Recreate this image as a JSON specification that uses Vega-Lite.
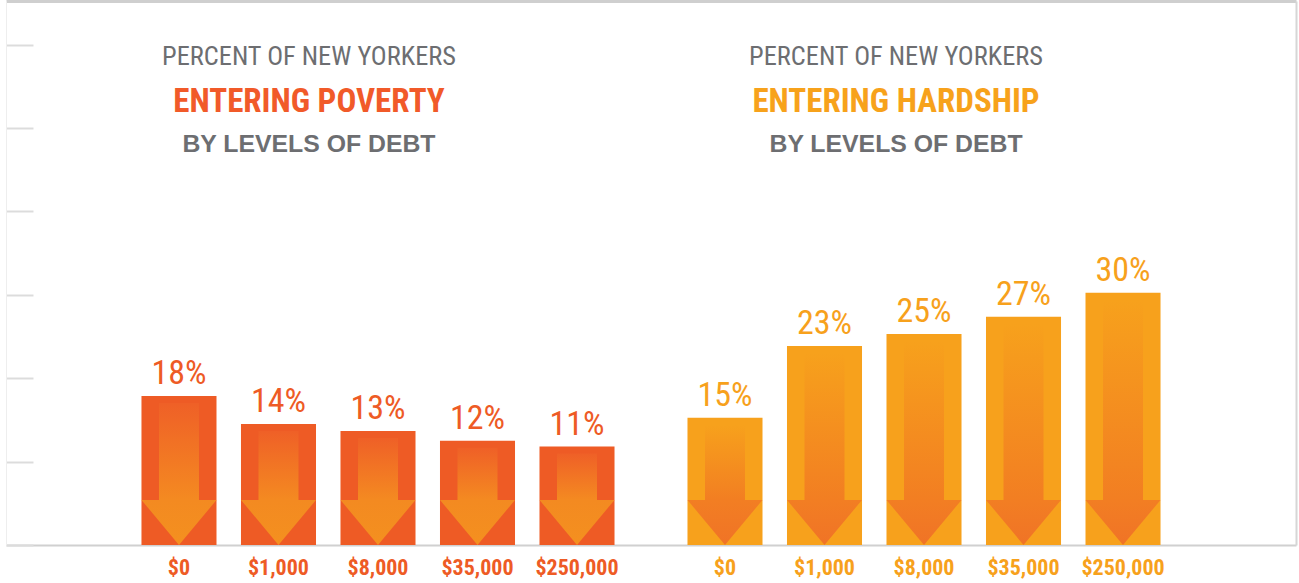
{
  "$schema": "https://vega.github.io/schema/vega-lite/v6.json",
  "width": 1290,
  "height": 544,
  "padding": {"left": 6, "top": 1, "right": 3, "bottom": 38},
  "autosize": {"type": "none"},
  "background": "#ffffff",
  "config": {"view": {"stroke": null}, "font": "'Noto Sans Condensed', 'Roboto Condensed', 'DejaVu Sans Condensed', 'Liberation Sans'"},
  "datasets": {
    "bars": [
      {"group": "Poverty", "debt": "$0", "value": 17.87, "label": "18%"},
      {"group": "Poverty", "debt": "$1,000", "value": 14.5, "label": "14%"},
      {"group": "Poverty", "debt": "$8,000", "value": 13.67, "label": "13%"},
      {"group": "Poverty", "debt": "$35,000", "value": 12.5, "label": "12%"},
      {"group": "Poverty", "debt": "$250,000", "value": 11.8, "label": "11%"},
      {"group": "Hardship", "debt": "$0", "value": 15.26, "label": "15%"},
      {"group": "Hardship", "debt": "$1,000", "value": 23.86, "label": "23%"},
      {"group": "Hardship", "debt": "$8,000", "value": 25.3, "label": "25%"},
      {"group": "Hardship", "debt": "$35,000", "value": 27.37, "label": "27%"},
      {"group": "Hardship", "debt": "$250,000", "value": 30.25, "label": "30%"}
    ],
    "titles": [
      {"group": "Poverty", "line1": "PERCENT OF NEW YORKERS", "line2": "ENTERING POVERTY", "line3": "BY LEVELS OF DEBT"},
      {"group": "Hardship", "line1": "PERCENT OF NEW YORKERS", "line2": "ENTERING HARDSHIP", "line3": "BY LEVELS OF DEBT"}
    ]
  },
  "resolve": {"axis": {"x": "independent", "y": "independent"}},
  "layer": [
    {
      "data": {"name": "bars"},
      "mark": {"type": "bar"},
      "encoding": {
        "x": {"field": "group", "type": "nominal",
              "scale": {"domain": ["Poverty", "Hardship"], "paddingInner": 0.0888, "paddingOuter": 0.2257},
              "axis": {"orient": "bottom", "labels": false, "ticks": false, "title": null, "domainColor": "#d0d0d0", "domainWidth": 2}},
        "xOffset": {"field": "debt", "type": "nominal",
              "scale": {"domain": ["$0", "$1,000", "$8,000", "$35,000", "$250,000"], "paddingInner": 0.246, "paddingOuter": 0.123}},
        "y": {"field": "value", "type": "quantitative",
              "scale": {"domain": [0, 65.23], "nice": false},
              "axis": {"orient": "left", "values": [0, 10, 20, 30, 40, 50, 60], "labels": false, "grid": false, "title": null,
                       "domainColor": "#eeeeee", "domainWidth": 1, "tickColor": "#dcdcdc", "tickWidth": 2, "tickSize": -27}},
        "y2": {"datum": 0},
        "color": {"field": "group", "type": "nominal",
                  "scale": {"domain": ["Poverty", "Hardship"], "range": ["#EE5B25", "#F7A11C"]}, "legend": null}
      }
    },
    {
      "data": {"name": "bars"},
      "mark": {"type": "bar", "width": 40, "yOffset": 7},
      "encoding": {
        "x": {"field": "group", "type": "nominal",
              "axis": {"orient": "top", "labels": false, "ticks": false, "title": null, "domainColor": "#cfcfcf", "domainWidth": 3}},
        "xOffset": {"field": "debt", "type": "nominal"},
        "y": {"field": "value", "type": "quantitative",
              "axis": {"orient": "right", "labels": false, "ticks": false, "grid": false, "title": null, "domainColor": "#d6d6d6", "domainWidth": 2}},
        "y2": {"datum": 5.4},
        "color": {
          "condition": {"test": "datum.group === 'Poverty'",
            "value": {"gradient": "linear", "x1": 0, "y1": 0, "x2": 0, "y2": 1,
                      "stops": [{"offset": 0, "color": "#EF6027"}, {"offset": 1, "color": "#F48A21"}]}},
          "value": {"gradient": "linear", "x1": 0, "y1": 0, "x2": 0, "y2": 1,
                    "stops": [{"offset": 0, "color": "#F7A11C"}, {"offset": 1, "color": "#F27E22"}]}
        }
      }
    },
    {
      "data": {"name": "bars"},
      "mark": {"type": "point", "shape": "M-1,-0.6L1,-0.6L0,0.6Z", "filled": true, "opacity": 1, "strokeWidth": 0, "size": 5625},
      "encoding": {
        "x": {"field": "group", "type": "nominal", "axis": null},
        "xOffset": {"field": "debt", "type": "nominal"},
        "y": {"datum": 2.7, "axis": null},
        "color": {
          "condition": {"test": "datum.group === 'Poverty'",
            "value": {"gradient": "linear", "x1": 0, "y1": 0, "x2": 0, "y2": 1,
                      "stops": [{"offset": 0, "color": "#F38A21"}, {"offset": 1, "color": "#F4901F"}]}},
          "value": {"gradient": "linear", "x1": 0, "y1": 0, "x2": 0, "y2": 1,
                    "stops": [{"offset": 0, "color": "#F27E23"}, {"offset": 1, "color": "#F07326"}]}
        }
      }
    },
    {
      "data": {"name": "bars"},
      "mark": {"type": "text", "baseline": "alphabetic", "dy": -12, "fontSize": 34},
      "encoding": {
        "x": {"field": "group", "type": "nominal", "axis": null},
        "xOffset": {"field": "debt", "type": "nominal"},
        "y": {"field": "value", "type": "quantitative", "axis": null},
        "text": {"field": "label"},
        "color": {"field": "group", "type": "nominal", "legend": null}
      }
    },
    {
      "data": {"name": "bars"},
      "mark": {"type": "text", "baseline": "alphabetic", "fontSize": 22, "fontWeight": "bold"},
      "encoding": {
        "x": {"field": "group", "type": "nominal", "axis": null},
        "xOffset": {"field": "debt", "type": "nominal"},
        "y": {"datum": -3.6, "axis": null},
        "text": {"field": "debt"},
        "color": {"field": "group", "type": "nominal", "legend": null}
      }
    },
    {
      "data": {"name": "titles"},
      "transform": [{"filter": "datum.group === 'Poverty'"}],
      "mark": {"type": "text", "baseline": "alphabetic", "fontSize": 26.4, "color": "#6d6e71", "dx": -69},
      "encoding": {
        "x": {"field": "group", "type": "nominal", "axis": null},
        "y": {"datum": 57.55, "axis": null},
        "text": {"field": "line1"}
      }
    },
    {
      "data": {"name": "titles"},
      "transform": [{"filter": "datum.group === 'Hardship'"}],
      "mark": {"type": "text", "baseline": "alphabetic", "fontSize": 26.4, "color": "#6d6e71", "dx": -28},
      "encoding": {
        "x": {"field": "group", "type": "nominal", "axis": null},
        "y": {"datum": 57.55, "axis": null},
        "text": {"field": "line1"}
      }
    },
    {
      "data": {"name": "titles"},
      "transform": [{"filter": "datum.group === 'Poverty'"}],
      "mark": {"type": "text", "baseline": "alphabetic", "fontSize": 33, "fontWeight": "bold", "color": "#F15A29", "dx": -69},
      "encoding": {
        "x": {"field": "group", "type": "nominal", "axis": null},
        "y": {"datum": 51.92, "axis": null},
        "text": {"field": "line2"}
      }
    },
    {
      "data": {"name": "titles"},
      "transform": [{"filter": "datum.group === 'Hardship'"}],
      "mark": {"type": "text", "baseline": "alphabetic", "fontSize": 33, "fontWeight": "bold", "color": "#F7A21B", "dx": -28},
      "encoding": {
        "x": {"field": "group", "type": "nominal", "axis": null},
        "y": {"datum": 51.92, "axis": null},
        "text": {"field": "line2"}
      }
    },
    {
      "data": {"name": "titles"},
      "transform": [{"filter": "datum.group === 'Poverty'"}],
      "mark": {"type": "text", "baseline": "alphabetic", "fontSize": 24.8, "fontWeight": "bold", "font": "Liberation Sans", "color": "#6d6e71", "dx": -69},
      "encoding": {
        "x": {"field": "group", "type": "nominal", "axis": null},
        "y": {"datum": 47.12, "axis": null},
        "text": {"field": "line3"}
      }
    },
    {
      "data": {"name": "titles"},
      "transform": [{"filter": "datum.group === 'Hardship'"}],
      "mark": {"type": "text", "baseline": "alphabetic", "fontSize": 24.8, "fontWeight": "bold", "font": "Liberation Sans", "color": "#6d6e71", "dx": -28},
      "encoding": {
        "x": {"field": "group", "type": "nominal", "axis": null},
        "y": {"datum": 47.12, "axis": null},
        "text": {"field": "line3"}
      }
    }
  ]
}
